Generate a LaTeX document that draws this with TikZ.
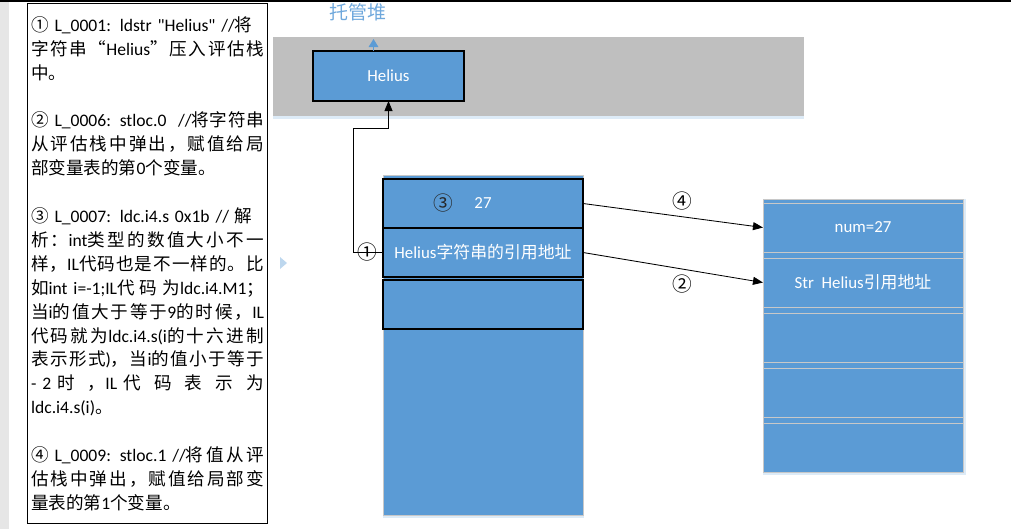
\documentclass[tikz,border=0pt]{standalone}
\usepackage{fontspec}
\setmainfont{Carlito}
\newfontfamily\cjk{Noto Sans CJK SC}
\usetikzlibrary{calc}
\usetikzlibrary{arrows.meta}

\definecolor{cellblue}{HTML}{5B9BD5}
\definecolor{heapgray}{HTML}{BFBFBF}
\definecolor{shadeblue}{HTML}{DDEBF7}
\definecolor{titleblue}{HTML}{6FA8DC}
\definecolor{linegray}{HTML}{C8C8C8}
\definecolor{markblue}{HTML}{BDD7EE}
\definecolor{stripgray}{HTML}{E6E6E6}

% CJK run, with a little stretch between the characters
\makeatletter
\def\zh#1{{\cjk\zh@first#1\relax}}
\def\zh@first#1{#1\zh@rest}
\def\zh@rest#1{\ifx#1\relax\else\hskip0pt plus 1pt #1\expandafter\zh@rest\fi}
\makeatother
\newcommand{\jl}[1]{\leavevmode\hbox to\hsize{#1}}

\tikzset{
  cell/.style={draw=black,line width=0.8pt,fill=cellblue,minimum width=5cm,minimum height=1.225cm,
    inner sep=0pt,outer sep=0pt,text=white,font=\fontsize{12}{14}\selectfont},
  slot/.style={draw=linegray,line width=0.6pt,fill=cellblue,minimum width=5cm,minimum height=1.225cm,
    inner sep=0pt,outer sep=0pt,text=white,font=\fontsize{12}{14}\selectfont},
  num/.style={inner sep=0pt,font=\cjk\fontsize{14}{16}\selectfont},
  link/.style={-{Triangle[length=2.5mm,width=2mm]},line width=0.6pt}
}

\begin{document}
\begin{tikzpicture}[x=0.025cm,y=-0.025cm]

\useasboundingbox (0,0) rectangle (1011,529);
\fill[stripgray] (0,0) rectangle (9,529);
\draw[line width=1.5pt] (0,0.5) -- (1011,0.5);

% notes on the left
\node[draw,line width=0.8pt,anchor=north west,minimum height=13cm,text width=5.825cm,
  inner xsep=0.0875cm,inner ysep=0pt,align=left,font=\fontsize{12.5}{17}\selectfont] (notes) at (27,3) {%
\parindent=0pt
\jl{\zh{①} L\_0001: ldstr \textquotedbl Helius\textquotedbl\ //\zh{将}}\\
\jl{\zh{字符串“}Helius\zh{”压入评估栈}}\\
\zh{中。}\\[17pt]
\jl{\zh{②} L\_0006: stloc.0 \ //\zh{将字符串}}\\
\jl{\zh{从评估栈中弹出，赋值给局}}\\
\zh{部变量表的第}0\zh{个变量。}\\[17pt]
\jl{\zh{③} L\_0007: ldc.i4.s 0x1b // \zh{解}}\\
\jl{\zh{析：}int\zh{类型的数值大小不一}}\\
\jl{\zh{样，}IL\zh{代码也是不一样的。比}}\\
\jl{\zh{如}int i=-1;IL\zh{代码为}ldc.i4.M1\zh{；}}\\
\jl{\zh{当}i\zh{的值大于等于}9\zh{的时候，}IL}\\
\jl{\zh{代码就为}ldc.i4.s(i\zh{的十六进制}}\\
\jl{\zh{表示形式})\zh{，当}i\zh{的值小于等于}}\\
\jl{- 2 \zh{时，}IL \zh{代码表示为}}\\
ldc.i4.s(i)\zh{。}\\[17pt]
\jl{\zh{④} L\_0009: stloc.1 //\zh{将值从评}}\\
\jl{\zh{估栈中弹出，赋值给局部变}}\\
\zh{量表的第}1\zh{个变量。}};

\fill[markblue] (280,257) -- (280,269) -- (287,263) -- cycle;

% managed heap
\fill[shadeblue] (273,37) rectangle (804,119);
\fill[heapgray] (273,37) rectangle (804,116);
\node[text=titleblue,font=\cjk\fontsize{13.5}{15}\selectfont] (heap) at (358,12) {托管堆};
\node[cell,minimum width=3.775cm,minimum height=1.25cm,line width=1pt] (helius) at (388.5,76) {Helius};
\draw[-{Triangle[length=2mm,width=2.4mm]},cellblue,line width=0.8pt]
  ($(helius.north)+(-15,0)$) -- ++(0,-12);

% evaluation stack
\fill[shadeblue] (383,175) rectangle (584,518);
\filldraw[fill=cellblue,draw=linegray,line width=0.6pt] (383,175) rectangle (583,515);
\node[cell] (s1) at (483,203.5) {27};
\node[cell] (s2) at (483,252.5) {Helius\zh{字符串的引用地址}};
\node[cell] (s3) at (483,304.5) {};
\node[num,text=black!85] (c3) at ($(s1.center)+(-40,0)$) {③};

% local variables
\fill[shadeblue] (763,199) rectangle (966,475);
\filldraw[fill=cellblue,draw=linegray,line width=0.6pt] (763,199) rectangle (963,472);
\foreach \i/\txt in {0/{num=27},1/{Str\ \ Helius\zh{引用地址}},2/{},3/{},4/{}}
  \node[slot] (r\i) at (863,{227.5+55*\i}) {\txt};

% arrows
\draw[link] (s1.east) -- (r0.west) node[num,pos=0.55,above=4pt] (a4) {④};
\draw[link] (s2.east) -- (r1.west) node[num,pos=0.55,below=4pt] (a2) {②};
\draw[link] (s2.west) -| ($(helius.south)+(-35,27)$) -| (helius.south);
\node[num] (c1) at ($(s2.west)+(-16,0)$) {①};

\end{tikzpicture}
\end{document}
